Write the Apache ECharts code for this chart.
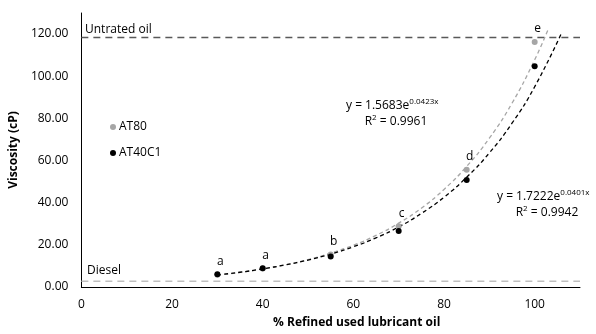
<!DOCTYPE html>
<html>
<head>
<meta charset="utf-8">
<script src="https://cdn.jsdelivr.net/npm/echarts@6/dist/echarts.min.js"></script>
<style>
  html, body { margin: 0; padding: 0; background: #fff; }
  #chart { width: 596px; height: 334px; }
</style>
</head>
<body>
<div id="chart"></div>
<script>
// measured points
const refinedPct = [30, 40, 55, 70, 85, 100]
const at80 = [5.8, 8.8, 15.4, 28.8, 55.6, 116.3]
const at40c1 = [6.1, 8.9, 14.5, 26.6, 50.8, 104.7]
const groupLabels = ['a', 'a', 'b', 'c', 'd', 'e']

// dashed trend curves
const trendX = [30, 35, 40, 45, 50, 55, 60, 65, 70, 75, 80, 85, 90, 95, 100]
const trendAt80 = [5.6, 6.9, 8.5, 10.5, 13.0, 16.1, 19.8, 24.5, 30.3, 37.4, 46.3, 57.2, 70.6, 87.2, 107.8]
const trendAt80End = [103, 122.4]
const trendAt40c1 = [5.7, 7.0, 8.6, 10.5, 12.8, 15.6, 19.1, 23.3, 28.5, 34.9, 42.6, 52.1, 63.6, 77.7, 95.0]
const trendAt40c1End = [106, 120.8]

// reference levels
const untreatedOil = 118.4
const diesel = 2.7
const xRange = [0, 110]

const yTicks = [0, 20, 40, 60, 80, 100, 120]

const font = 'Open Sans'

const pairs = (xs, ys) => xs.map((x, i) => [x, ys[i]])

const chart = echarts.init(document.getElementById('chart'))

chart.setOption({
  animation: false,
  textStyle: { fontFamily: font },
  grid: { left: 80, right: 16, top: 13, bottom: 43 },
  legend: {
    orient: 'vertical',
    left: 105,
    top: 116,
    icon: 'circle',
    itemWidth: 6,
    itemHeight: 6,
    itemGap: 14,
    textStyle: { fontSize: 12, color: '#000', fontFamily: font, padding: [0, 0, 0, -2] },
    data: ['AT80', 'AT40C1']
  },
  xAxis: {
    type: 'value',
    min: xRange[0],
    max: xRange[1],
    interval: 20,
    name: '% Refined used lubricant oil',
    nameLocation: 'middle',
    nameGap: 30,
    nameTextStyle: { fontWeight: 'bold', fontSize: 12, color: '#000', padding: [0, 0, 0, 52] },
    axisLine: { lineStyle: { color: '#000', width: 1 } },
    axisTick: { show: false },
    splitLine: { show: false },
    axisLabel: { fontSize: 12, color: '#000', margin: 12, showMaxLabel: false }
  },
  yAxis: {
    type: 'value',
    min: 0,
    max: 130,
    interval: 20,
    name: 'Viscosity (cP)',
    nameLocation: 'middle',
    nameGap: 55,
    nameTextStyle: { fontWeight: 'bold', fontSize: 12, color: '#000' },
    axisLine: { show: true, lineStyle: { color: '#000', width: 1 } },
    axisTick: { show: false },
    splitLine: { show: false },
    axisLabel: {
      fontSize: 12,
      color: '#000',
      margin: 13,
      showMaxLabel: false,
      formatter: v => yTicks.includes(v) ? v.toFixed(2) : ''
    }
  },
  series: [
    {
      name: 'Untreated',
      type: 'line',
      data: [[xRange[0], untreatedOil], [xRange[1], untreatedOil]],
      showSymbol: false,
      silent: true,
      lineStyle: { color: '#595959', width: 1.5, type: [7, 5] },
      z: 1
    },
    {
      name: 'Diesel',
      type: 'line',
      data: [[xRange[0], diesel], [xRange[1], diesel]],
      showSymbol: false,
      silent: true,
      lineStyle: { color: '#BFBFBF', width: 1.5, type: [7, 5] },
      z: 1
    },
    {
      name: 'trend AT80',
      type: 'line',
      smooth: true,
      data: pairs(trendX, trendAt80).concat([trendAt80End]),
      showSymbol: false,
      silent: true,
      lineStyle: { color: '#A6A6A6', width: 1.3, type: [4, 3] },
      z: 2
    },
    {
      name: 'trend AT40C1',
      type: 'line',
      smooth: true,
      data: pairs(trendX, trendAt40c1).concat([trendAt40c1End]),
      showSymbol: false,
      silent: true,
      lineStyle: { color: '#000', width: 1.3, type: [4, 3] },
      z: 2
    },
    {
      name: 'AT80',
      type: 'scatter',
      data: pairs(refinedPct, at80),
      symbolSize: 6,
      itemStyle: { color: '#A6A6A6', opacity: 1 },
      label: {
        show: true,
        position: 'top',
        distance: 4,
        offset: [3, 0],
        fontSize: 12,
        color: '#000',
        opacity: 1,
        formatter: p => groupLabels[p.dataIndex]
      },
      z: 3
    },
    {
      name: 'AT40C1',
      type: 'scatter',
      data: pairs(refinedPct, at40c1),
      symbolSize: 6,
      itemStyle: { color: '#000', opacity: 1 },
      z: 4
    }
  ],
  graphic: [
    {
      type: 'text', left: 85, top: 24,
      style: { text: 'Untrated oil', font: '12px "Open Sans"', fill: '#000' }
    },
    {
      type: 'text', left: 87, top: 265,
      style: { text: 'Diesel', font: '12px "Open Sans"', fill: '#000' }
    },
    {
      type: 'text', left: 346, top: 98,
      style: {
        text: '{b|y = 1.5683e}{s|0.0423x}\n{b|      R}{s|2}{b| = 0.9961}',
        rich: {
          b: { fontSize: 12, fontFamily: font, fill: '#000', lineHeight: 16 },
          s: { fontSize: 8, fontFamily: font, fill: '#000', verticalAlign: 'top', lineHeight: 16, padding: [0, 0, 6, 0] }
        }
      }
    },
    {
      type: 'text', left: 497, top: 189,
      style: {
        text: '{b|y = 1.7222e}{s|0.0401x}\n{b|      R}{s|2}{b| = 0.9942}',
        rich: {
          b: { fontSize: 12, fontFamily: font, fill: '#000', lineHeight: 16 },
          s: { fontSize: 8, fontFamily: font, fill: '#000', verticalAlign: 'top', lineHeight: 16, padding: [0, 0, 6, 0] }
        }
      }
    }
  ]
})
</script>
</body>
</html>
